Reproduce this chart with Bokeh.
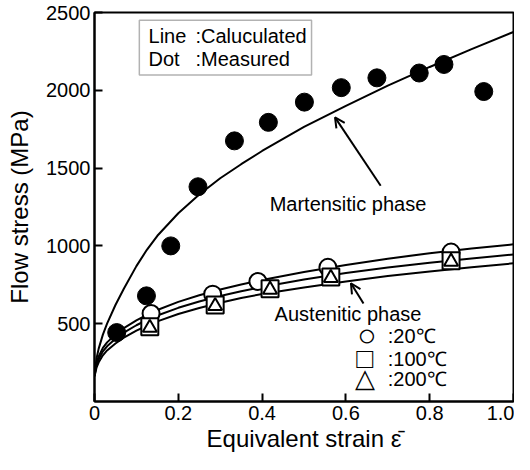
from bokeh.plotting import figure
from bokeh.models import FixedTicker, Label, BoxAnnotation, Arrow, OpenHead, Range1d
from bokeh.embed import file_html
from bokeh.resources import INLINE

# ---------------- data ----------------
# measured, martensitic phase (filled dots)
mart_x = [0.053, 0.124, 0.182, 0.247, 0.334, 0.415, 0.501, 0.589, 0.674, 0.775, 0.834, 0.929]
mart_y = [443, 679, 1000, 1380, 1675, 1794, 1924, 2017, 2080, 2111, 2166, 1992]

# measured, austenitic phase
c20_x = [0.135, 0.282, 0.390, 0.557, 0.851]
c20_y = [565, 690, 771, 862, 960]
c100_x = [0.132, 0.288, 0.419, 0.564, 0.851]
c100_y = [480, 620, 725, 800, 905]
c200_x = [0.132, 0.288, 0.419, 0.564, 0.851]
c200_y = [474, 614, 719, 794, 899]

# calculated curves
curve_x = [0, 0.005, 0.01, 0.02, 0.03, 0.05, 0.07, 0.1, 0.125, 0.15, 0.2, 0.25,
           0.3, 0.35, 0.4, 0.5, 0.6, 0.7, 0.8, 0.9, 1.0]
mart_line = [170, 280, 340, 430, 500, 620, 725, 870, 975, 1065, 1210, 1330,
             1435, 1525, 1610, 1765, 1900, 2030, 2150, 2265, 2375]
aus20_line = [170, 250, 290, 345, 380, 430, 472, 522, 557, 588, 640, 683,
              720, 752, 781, 832, 877, 918, 953, 983, 1010]
aus100_line = [165, 235, 272, 322, 355, 403, 443, 490, 524, 553, 602, 643,
               678, 709, 736, 784, 826, 861, 892, 919, 945]
aus200_line = [160, 220, 252, 297, 328, 373, 410, 455, 487, 515, 562, 601,
               635, 665, 691, 732, 771, 806, 836, 863, 888]

x_ticks = [0, 0.2, 0.4, 0.6, 0.8, 1.0]
y_ticks = [500, 1000, 1500, 2000, 2500]

FONT = "Liberation Sans"

p = figure(width=514, height=454, output_backend="svg", toolbar_location=None,
           x_range=Range1d(0, 1.0), y_range=Range1d(0, 2500),
           min_border_left=94, min_border_right=1, min_border_top=12, min_border_bottom=40)

p.background_fill_color = "white"
p.border_fill_color = "white"
p.outline_line_color = "black"
p.outline_line_width = 2
p.xgrid.visible = False
p.ygrid.visible = False

for ax in (p.xaxis[0], p.yaxis[0]):
    ax.axis_line_width = 2
    ax.axis_line_color = "black"
    ax.major_tick_in = 8
    ax.major_tick_out = 0
    ax.major_tick_line_width = 2
    ax.minor_tick_line_color = None
    ax.major_label_text_font = FONT
    ax.major_label_text_font_size = "20px"
    ax.major_label_text_color = "black"
    ax.axis_label_text_font = FONT
    ax.axis_label_text_font_style = "normal"
    ax.axis_label_text_font_size = "24px"
    ax.axis_label_text_color = "black"

p.xaxis.ticker = FixedTicker(ticks=x_ticks)
p.xaxis.major_label_overrides = {1: "1.0"}
p.xaxis.major_label_standoff = 4
p.xaxis.axis_label = "Equivalent strain \u03b5\u0304"
p.xaxis.axis_label_standoff = 2

p.yaxis.ticker = FixedTicker(ticks=y_ticks)
p.yaxis.major_label_standoff = 4
p.yaxis.axis_label = "Flow stress (MPa)"
p.yaxis.axis_label_standoff = 10

# curves
for ys in (mart_line, aus20_line, aus100_line, aus200_line):
    p.line(curve_x, ys, line_color="black", line_width=2)

# markers
p.scatter(mart_x, mart_y, marker="circle", size=18, fill_color="black", line_color="black")
p.scatter(c20_x, c20_y, marker="circle", size=17, fill_color="white", line_color="black", line_width=2)
p.scatter(c100_x, c100_y, marker="square", size=17, fill_color="white", line_color="black", line_width=2)
p.scatter(c200_x, c200_y, marker="triangle", size=14, fill_color="white", line_color="black", line_width=2)

# legend box (top)
box = BoxAnnotation(left=0.107, right=0.518, bottom=2099, top=2450,
                    fill_color="white", fill_alpha=1, line_color="black", line_width=1.5)
p.add_layout(box)

def lab(x, y, text, size="20px", align="left"):
    p.add_layout(Label(x=x, y=y, text=text, text_font=FONT, text_font_size=size,
                       text_color="black", text_align=align, text_baseline="middle"))

lab(0.129, 2350, "Line")
lab(0.241, 2350, ":Caluculated")
lab(0.129, 2200, "Dot")
lab(0.241, 2200, ":Measured")

lab(0.605, 1272, "Martensitic phase", align="center")
lab(0.605, 560, "Austenitic phase", align="center")

p.add_layout(Arrow(end=OpenHead(size=10, line_width=2, line_color="black"),
                   x_start=0.683, y_start=1387, x_end=0.574, y_end=1826,
                   line_width=2, line_color="black"))
p.add_layout(Arrow(end=OpenHead(size=10, line_width=2, line_color="black"),
                   x_start=0.642, y_start=630, x_end=0.612, y_end=760,
                   line_width=2, line_color="black"))

# temperature key
lab(0.650, 425, "\u25cb", size="32px", align="center")
lab(0.645, 275, "\u25a1", size="28px", align="center")
lab(0.645, 150, "\u25b3", size="26px", align="center")
lab(0.700, 420, ":20\u2103")
lab(0.700, 270, ":100\u2103")
lab(0.700, 145, ":200\u2103")

open("out.html", "w").write(file_html(p, INLINE))
